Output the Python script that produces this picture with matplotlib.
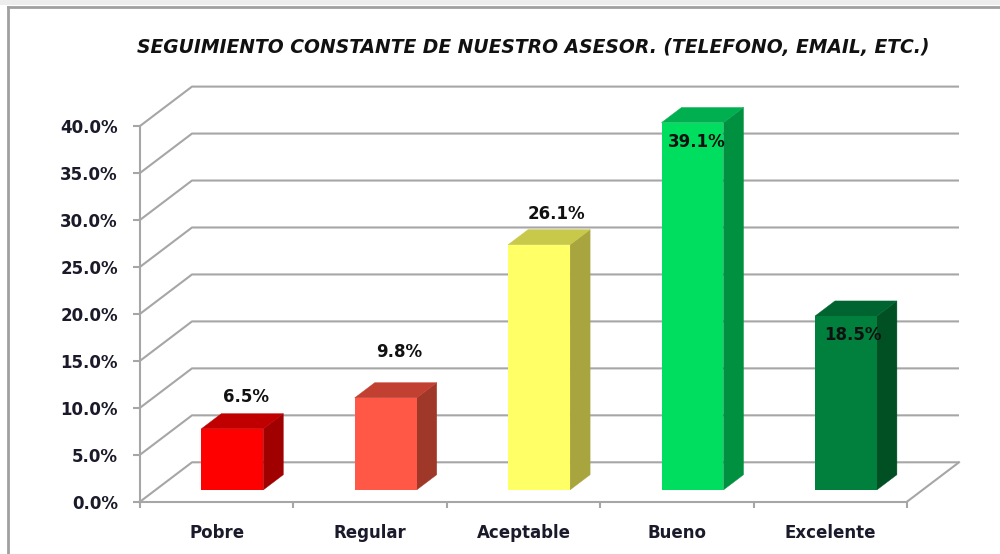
import matplotlib
matplotlib.use("Agg")
import matplotlib.pyplot as plt
from matplotlib.patches import Polygon, Rectangle
from matplotlib.lines import Line2D

# ---- data ----
categories = ["Pobre", "Regular", "Aceptable", "Bueno", "Excelente"]
values = [6.5, 9.8, 26.1, 39.1, 18.5]
value_labels = ["6.5%", "9.8%", "26.1%", "39.1%", "18.5%"]
yticks = [0, 5, 10, 15, 20, 25, 30, 35, 40]
ytick_labels = ["0.0%", "5.0%", "10.0%", "15.0%", "20.0%", "25.0%", "30.0%", "35.0%", "40.0%"]
title = "SEGUIMIENTO CONSTANTE DE NUESTRO ASESOR. (TELEFONO, EMAIL, ETC.)"

# label vertical offset from bar top, in pixels (style)
label_offset_px = [32, 46, 31, -19, -19]
label_dx = [0.09, 0.09, 0.11, 0.025, 0.045]

front_colors = ["#FF0000", "#FF5846", "#FFFF66", "#00DE60", "#00803C"]
top_colors = ["#C00000", "#C24032", "#C8C84A", "#00B050", "#006430"]
side_colors = ["#A00000", "#A0382A", "#A8A53E", "#009140", "#005024"]

W, H = 1000, 554
fig = plt.figure(figsize=(W / 100, H / 100), dpi=100)
fig.patch.set_facecolor("white")

# axes = front plane of the 3D box
left_px, right_px, top_px, bot_px = 140, 907, 126, 501.7
ax = fig.add_axes([left_px / W, 1 - bot_px / H, (right_px - left_px) / W, (bot_px - top_px) / H])
ax.set_facecolor("none")
n = len(categories)
ax.set_xlim(0, n)
ax.set_ylim(0, 40)
px_per_unit = (bot_px - top_px) / 40

# oblique depth offset in data units
DX = 52 / ((right_px - left_px) / n)
DY = 39.4 / px_per_unit

grid_c = "#A6A6A6"
lw = 1.5
for v in yticks:
    ax.plot([0, DX, n + DX], [v, v + DY, v + DY], color=grid_c, lw=lw, clip_on=False, zorder=1,
            solid_capstyle="butt")
# floor right edge
ax.plot([n, n + DX], [0, DY], color=grid_c, lw=lw, clip_on=False, zorder=1)

# bars
d0 = 0.3
hw = 0.202
dd = 0.385
dx, dy = dd * DX, dd * DY
for i, v in enumerate(values):
    c = i + 0.5
    x0 = c - hw + d0 * DX
    x1 = c + hw + d0 * DX
    y0 = d0 * DY
    y1 = v + d0 * DY
    side = Polygon([(x1, y0), (x1 + dx, y0 + dy), (x1 + dx, y1 + dy), (x1, y1)], closed=True,
                   facecolor=side_colors[i], edgecolor=side_colors[i], lw=0.3,
                   clip_on=False, zorder=3)
    top = Polygon([(x0, y1), (x1, y1), (x1 + dx, y1 + dy), (x0 + dx, y1 + dy)], closed=True,
                  facecolor=top_colors[i], edgecolor=top_colors[i], lw=0.3,
                  clip_on=False, zorder=3)
    front = Rectangle((x0, y0), x1 - x0, y1 - y0, facecolor=front_colors[i], edgecolor="none",
                      clip_on=False, zorder=4)
    ax.add_patch(side)
    ax.add_patch(top)
    ax.add_patch(front)
    ax.text(c + d0 * DX + label_dx[i], y1 + label_offset_px[i] / px_per_unit, value_labels[i],
            ha="center", va="center", fontsize=12, fontweight="bold", color="#111111",
            zorder=6, clip_on=False)

# spines
for s in ["top", "right"]:
    ax.spines[s].set_visible(False)
for s in ["left", "bottom"]:
    ax.spines[s].set_color(grid_c)
    ax.spines[s].set_linewidth(lw)
    ax.spines[s].set_zorder(2)

ax.set_yticks(yticks)
ax.set_yticklabels(ytick_labels)
ax.tick_params(axis="y", length=5, width=lw, color=grid_c, pad=11, labelsize=12,
               labelcolor="#1a1a2a")
for t in ax.get_yticklabels():
    t.set_fontweight("bold")

ax.set_xticks(list(range(n + 1)))
ax.set_xticklabels([])
ax.set_xticks([i + 0.5 for i in range(n)], minor=True)
ax.set_xticklabels(categories, minor=True)
ax.tick_params(axis="x", which="major", length=4.5, width=lw, color=grid_c, direction="out")
ax.tick_params(axis="x", which="minor", length=0, pad=16, labelsize=12, labelcolor="#1a1a2a")
for t in ax.get_xticklabels(minor=True):
    t.set_fontweight("bold")

# title
fig.text(533 / W, 1 - 48 / H, title, ha="center", va="center", fontsize=13.5,
         fontweight="bold", fontstyle="italic", color="#111111")

# outer frame
fig.add_artist(Rectangle((0, 1 - 5 / H), 1, 5 / H, transform=fig.transFigure,
                         facecolor="#EDEDED", edgecolor="none"))
fig.add_artist(Line2D([8 / W, 8 / W], [0, 1 - 7 / H], transform=fig.transFigure,
                      color="#A0A0A0", lw=2))
fig.add_artist(Line2D([8 / W, 1], [1 - 7 / H, 1 - 7 / H], transform=fig.transFigure,
                      color="#A0A0A0", lw=2))

fig.savefig("out.png", dpi=100, facecolor="white")
